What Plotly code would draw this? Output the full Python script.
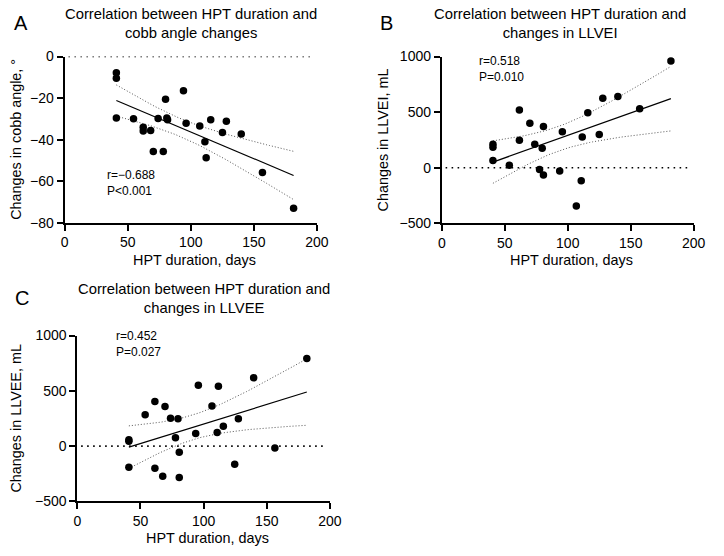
import numpy as np
import plotly.graph_objects as go

# Panel A: cobb angle changes
a_days = [41, 41, 41, 54.6, 62.3, 62.3, 68.2, 70.3, 74.1, 78.2, 80, 81, 81.6, 94.2,
          96.3, 107.1, 111.2, 112.2, 115.8, 125.1, 128.2, 140, 156.8, 181.5]
a_vals = [-7.8, -10.5, -29.6, -30, -34, -35.9, -35.6, -45.7, -29.8, -45.7, -20.6, -29.6,
          -30.4, -16.5, -32.1, -33.5, -41, -48.8, -30.4, -36.6, -31.2, -37.3, -55.8, -73.1]

# Panel B: LLVEI changes
b_days = [40.6, 40.6, 40.6, 53.6, 61.6, 61.6, 69.9, 73.8, 77.6, 79.7, 80.7, 80.7, 93.6,
          95.7, 106.8, 110.7, 111.5, 115.9, 125, 127.8, 139.8, 157.1, 181.9]
b_vals = [212, 184, 66, 23, 519, 247, 399, 212, -15, 175, 370, -65, -30,
          324, -345, -117, 277, 495, 300, 624, 641, 530, 959]

# Panel C: LLVEE changes
c_days = [181.7, 139.6, 95.8, 111.7, 61.4, 69.4, 106.6, 53.7, 73.8, 79.7, 127.5, 115.6,
          110.7, 93.7, 77.7, 40.8, 40.8, 80.7, 156.4, 40.8, 61.4, 124.6, 67.6, 80.7]
c_vals = [793, 619, 551, 542, 404, 359, 363, 283, 253, 248, 248, 180,
          124, 115, 76, 58, 44, -56, -18, -192, -201, -163, -272, -283]

titles = ["Correlation between HPT duration and<br>cobb angle changes",
          "Correlation between HPT duration and<br>changes in LLVEI",
          "Correlation between HPT duration and<br>changes in LLVEE"]
ytitles = ["Changes in cobb angle, °", "Changes in LLVEI, mL", "Changes in LLVEE, mL"]
stats = ["r=−0.688<br>P<0.001", "r=0.518<br>P=0.010", "r=0.452<br>P=0.027"]
letters = ["A", "B", "C"]

W, H = 724, 556
FONT = "Arial, Liberation Sans, Helvetica, sans-serif"

def px(x):
    return x / W

def py(y):
    return 1 - y / H

def fit_band(x, y, t=2.07):
    x = np.asarray(x, float)
    y = np.asarray(y, float)
    n = len(x)
    b, a = np.polyfit(x, y, 1)
    xs = np.linspace(x.min(), x.max(), 60)
    yhat = a + b * xs
    resid = y - (a + b * x)
    s = np.sqrt(np.sum(resid ** 2) / (n - 2))
    se = s * np.sqrt(1 / n + (xs - x.mean()) ** 2 / np.sum((x - x.mean()) ** 2))
    return xs, yhat, yhat - t * se, yhat + t * se

# panel placement in pixels: x0, x1, ytop, ybottom
panels = [
    dict(x=a_days, y=a_vals, box=(62, 320, 50, 221), yr=[-80, 0], dt=20,
         title_xy=(191.7, 16), xt_xy=(195, 259), yt_xy=(12, 135), st_xy=(103, 180),
         letter_xy=(17, 15)),
    dict(x=b_days, y=b_vals, box=(447.7, 705.3, 50, 221.7), yr=[-500, 1000], dt=500,
         title_xy=(568.7, 16), xt_xy=(580, 259), yt_xy=(388, 136), st_xy=(484, 63),
         letter_xy=(391, 15)),
    dict(x=c_days, y=c_vals, box=(75, 333.3, 337.3, 508), yr=[-500, 1000], dt=500,
         title_xy=(205, 299), xt_xy=(208, 546), yt_xy=(12, 422), st_xy=(112, 346),
         letter_xy=(18, 299)),
]

fig = go.Figure()
annotations = []

def note(text, xy, size, **kw):
    d = dict(text=text, x=px(xy[0]), y=py(xy[1]), xref="paper", yref="paper",
             xanchor="center", yanchor="middle", showarrow=False,
             font=dict(family=FONT, size=size, color="black"))
    d.update(kw)
    annotations.append(d)

for i, p in enumerate(panels):
    xa = "x" if i == 0 else "x%d" % (i + 1)
    ya = "y" if i == 0 else "y%d" % (i + 1)
    x0, x1, yt, yb = p["box"]

    # dotted zero line
    fig.add_trace(go.Scatter(x=[3, 197], y=[0, 0], mode="lines", xaxis=xa, yaxis=ya,
                             line=dict(color="black", width=1.6, dash="1.6px,4.4px"),
                             hoverinfo="skip"))
    xs, yhat, lo, hi = fit_band(p["x"], p["y"])
    for band in (lo, hi):
        fig.add_trace(go.Scatter(x=xs, y=band, mode="lines", xaxis=xa, yaxis=ya,
                                 line=dict(color="#555", width=1, dash="1px,2px")))
    fig.add_trace(go.Scatter(x=xs, y=yhat, mode="lines", xaxis=xa, yaxis=ya,
                             line=dict(color="black", width=1.2)))
    fig.add_trace(go.Scatter(x=p["x"], y=p["y"], mode="markers", xaxis=xa, yaxis=ya,
                             marker=dict(color="black", size=7.5)))

    axis_common = dict(showline=True, linecolor="black", linewidth=2, ticks="outside",
                       ticklen=6, tickwidth=2, tickcolor="black", showgrid=False,
                       zeroline=False, tickfont=dict(family=FONT, size=14, color="black"))
    fig.layout[xa.replace("x", "xaxis")] = dict(
        domain=[px(x0), px(x1)], anchor=ya, range=[0, 200], dtick=50, tick0=0,
        **axis_common)
    fig.layout[ya.replace("y", "yaxis")] = dict(
        domain=[py(yb), py(yt)], anchor=xa, range=p["yr"], dtick=p["dt"],
        **axis_common)

    note(titles[i], p["title_xy"], 14.8)
    note("HPT duration, days", p["xt_xy"], 14.4)
    note(ytitles[i], p["yt_xy"], 14.4, textangle=-90)
    note(stats[i], p["st_xy"], 12, xanchor="left", align="left")
    note(letters[i], p["letter_xy"], 20)

fig.update_layout(
    width=W, height=H,
    margin=dict(l=0, r=0, t=0, b=0),
    paper_bgcolor="white", plot_bgcolor="white",
    showlegend=False,
    annotations=annotations,
)

fig.write_html("out.html", config={"displayModeBar": False},
               post_script="document.body.style.margin='0';")
